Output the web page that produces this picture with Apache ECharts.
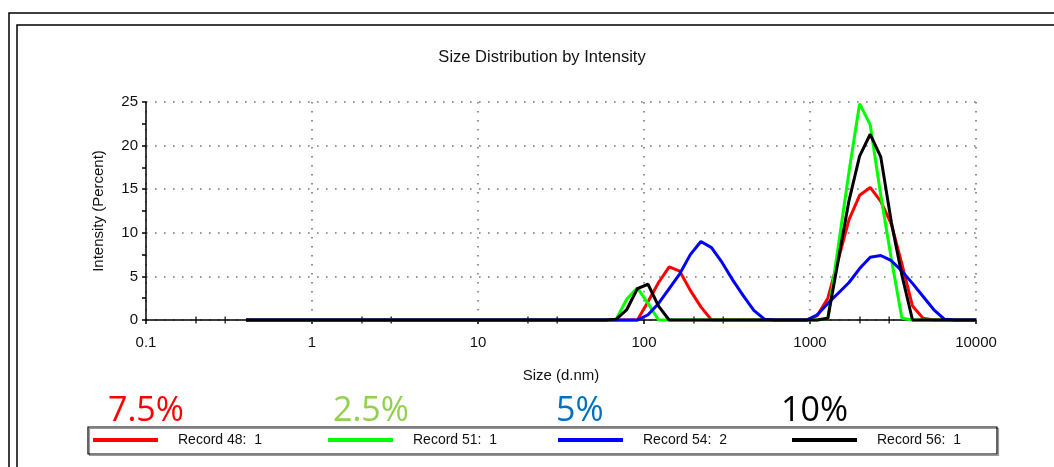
<!DOCTYPE html>
<html><head><meta charset="utf-8">
<script src="https://cdn.jsdelivr.net/npm/echarts@6/dist/echarts.min.js"></script>
<style>html,body{margin:0;padding:0;background:#fff}#c{width:1054px;height:467px}</style>
</head><body><div id="c"></div>
<script>
// Size bins (d.nm)
const sizes = [0.4, 0.4632, 0.5365, 0.6213, 0.7195, 0.8332, 0.9649, 1.117, 1.294, 1.499,
  1.736, 2.010, 2.328, 2.696, 3.122, 3.615, 4.187, 4.849, 5.615, 6.503,
  7.531, 8.721, 10.10, 11.70, 13.54, 15.69, 18.17, 21.04, 24.36, 28.21,
  32.67, 37.84, 43.82, 50.75, 58.77, 68.06, 78.82, 91.28, 105.7, 122.4,
  141.8, 164.2, 190.1, 220.2, 255.0, 295.3, 342.0, 396.1, 458.7, 531.2,
  615.1, 712.4, 825.0, 955.4, 1106, 1281, 1484, 1718, 1990, 2305,
  2669, 3091, 3580, 4145, 4801, 5560, 6439, 7456, 8635, 10000];

// Intensity (%) per bin
const record48 = [0,0,0,0,0,0,0,0,0,0, 0,0,0,0,0,0,0,0,0,0, 0,0,0,0,0,0,0,0,0,0,
  0,0,0,0,0,0,0,0,2.1,4.3, 6.1,5.6,3.4,1.5,0,0,0,0,0,0,
  0,0,0,0,0.5,2.5,7.0,11.5,14.3,15.2, 13.6,11.0,6.4,1.6,0.2,0,0,0,0,0];
const record51 = [0,0,0,0,0,0,0,0,0,0, 0,0,0,0,0,0,0,0,0,0, 0,0,0,0,0,0,0,0,0,0,
  0,0,0,0,0,0.1,2.4,3.7,1.9,0, 0,0,0,0,0,0,0,0,0,0,
  0,0,0,0,0,0.2,8.6,17.0,24.8,22.4, 14.3,7.0,0.2,0,0,0,0,0,0,0];
const record54 = [0,0,0,0,0,0,0,0,0,0, 0,0,0,0,0,0,0,0,0,0, 0,0,0,0,0,0,0,0,0,0,
  0,0,0,0,0,0,0,0,0.6,1.9, 3.6,5.3,7.5,9.0,8.3,6.6,4.6,2.8,1.1,0.1,
  0,0,0,0,0.6,1.9,3.1,4.3,5.9,7.2, 7.4,6.8,5.6,4.2,2.7,1.2,0.1,0,0,0];
const record56 = [0,0,0,0,0,0,0,0,0,0, 0,0,0,0,0,0,0,0,0,0, 0,0,0,0,0,0,0,0,0,0,
  0,0,0,0,0,0.1,1.2,3.6,4.1,1.6, 0,0,0,0,0,0,0,0,0,0,
  0,0,0,0,0,0.2,7.0,13.7,18.8,21.3, 18.7,11.2,5.1,0,0,0,0,0,0,0];

const seriesNames = ['Record 48:  1', 'Record 51:  1', 'Record 54:  2', 'Record 56:  1'];
const seriesValues = [record48, record51, record54, record56];
const seriesColors = ['#ff0000', '#00ff00', '#0000ff', '#000000'];

const annotationTexts = ['7.5%', '2.5%', '5%', '10%'];
const annotationColors = ['#ff0000', '#92d050', '#0070c0', '#000000'];

const xMinorTicks = [0.2, 0.3, 2, 3, 20, 30, 200, 300, 2000, 3000];

const FONT = '"Liberation Sans", Arial, sans-serif';
const chart = echarts.init(document.getElementById('c'), null, {renderer: 'canvas'});

const legendLefts = [93, 328, 558, 792];
const annotationLefts = [108, 333, 556, 781];

const series = [{
  type: 'scatter', name: 'minorTicks', silent: true, z: 1,
  data: xMinorTicks.map(v => [v, 0]),
  symbol: 'rect', symbolSize: [1.5, 7],
  itemStyle: {color: '#000'}
}];
seriesNames.forEach((n, k) => {
  series.push({
    type: 'line', name: n, symbol: 'none', z: 2 + k, clip: false,
    data: sizes.map((s, i) => [s, seriesValues[k][i]]),
    lineStyle: {color: seriesColors[k], width: 3},
    itemStyle: {color: seriesColors[k]}
  });
});

const graphics = [
  {type: 'rect', silent: true, shape: {x: 9, y: 13, width: 1100, height: 500},
   style: {fill: 'none', stroke: '#000', lineWidth: 1.5}},
  {type: 'rect', silent: true, shape: {x: 17, y: 25, width: 1100, height: 500},
   style: {fill: 'none', stroke: '#000', lineWidth: 1.5}},
  {type: 'rect', silent: true, shape: {x: 88, y: 427, width: 909, height: 27},
   style: {fill: 'none', stroke: '#000', lineWidth: 1.2, shadowColor: '#999', shadowOffsetX: 1.5, shadowOffsetY: 1.5, shadowBlur: 0}}
];
annotationTexts.forEach((t, k) => {
  graphics.push({type: 'text', silent: true, x: annotationLefts[k], y: 411,
    style: {text: t, fill: annotationColors[k], fontSize: 34, fontFamily: '"Open Sans", sans-serif',
      align: 'left', verticalAlign: 'middle'}});
});

chart.setOption({
  animation: false,
  backgroundColor: '#fff',
  title: {
    text: 'Size Distribution by Intensity', left: 537, top: 44, textAlign: 'center',
    textStyle: {fontSize: 16.5, fontWeight: 'normal', color: '#111', fontFamily: FONT}
  },
  grid: {left: 146, right: 78, top: 102, bottom: 147, containLabel: false},
  legend: seriesNames.map((n, k) => ({
    data: [n], left: legendLefts[k], top: 433, padding: 0,
    itemWidth: 65, itemHeight: 4, icon: 'rect', selectedMode: false,
    textStyle: {fontSize: 14, color: '#111', fontFamily: FONT, padding: [0, 0, 0, 15]}
  })),
  xAxis: {
    type: 'log', logBase: 10, min: 0.1, max: 10000,
    name: 'Size (d.nm)', nameLocation: 'middle', nameGap: 48,
    nameTextStyle: {fontSize: 15, color: '#111', fontFamily: FONT},
    axisLine: {lineStyle: {color: '#000', width: 1.5}},
    axisTick: {show: true, length: 4, lineStyle: {color: '#000', width: 1.5}},
    axisLabel: {fontSize: 15, color: '#111', fontFamily: FONT, margin: 15,
      formatter: v => String(Number(Number(v).toPrecision(6)))},
    splitLine: {show: true, lineStyle: {color: '#777', width: 1.6, type: [1.6, 7.4]}}
  },
  yAxis: {
    type: 'value', min: 0, max: 25, interval: 5,
    name: 'Intensity (Percent)', nameLocation: 'middle', nameGap: 40, nameRotate: 90,
    nameTextStyle: {fontSize: 15, color: '#111', fontFamily: FONT},
    axisLine: {show: true, lineStyle: {color: '#000', width: 1.5}},
    axisTick: {show: true, length: 4, lineStyle: {color: '#000', width: 1.5}},
    minorTick: {show: true, splitNumber: 2, length: 4, lineStyle: {color: '#000', width: 1.5}},
    axisLabel: {fontSize: 15, color: '#111', fontFamily: FONT, margin: 8},
    splitLine: {show: true, lineStyle: {color: '#777', width: 1.6, type: [1.6, 7.4]}}
  },
  graphic: graphics,
  series: series
});
</script></body></html>
